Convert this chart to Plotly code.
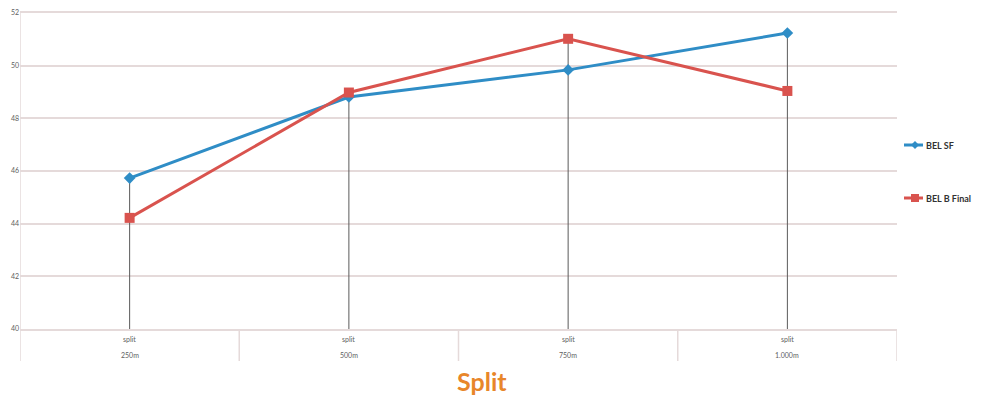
import plotly.graph_objects as go

# Split times per 250 m segment
row1 = ["split", "split", "split", "split"]
row2 = ["250m", "500m", "750m", "1.000m"]
series_names = ["BEL SF", "BEL B Final"]
bel_sf = [45.73, 48.81, 49.84, 51.24]
bel_b_final = [44.22, 48.98, 51.02, 49.04]
y_ticks = [40, 42, 44, 46, 48, 50, 52]

BLUE = "#2F8DC6"
RED = "#D9534E"
GRID = "#E5DADA"
LABEL = "#5E5E5E"
FONT = "Lato, 'Open Sans', sans-serif"

xs = list(range(len(row2)))
y_min, y_max = 40, 52

# Plot-area geometry (pixels) used to place the hand-built legend
W, H = 992, 405
ML, MR, MT, MB = 20, 95, 13, 76
PW, PH = W - ML - MR, H - MT - MB


def px_x(px):
    return (px - ML) / PW


def px_y(py):
    return (H - MB - py) / PH


fig = go.Figure()

# Drop lines from the highest value of each category down to the axis
drop_x, drop_y = [], []
for i in xs:
    drop_x += [i, i, None]
    drop_y += [max(bel_sf[i], bel_b_final[i]), y_min, None]
fig.add_trace(go.Scatter(x=drop_x, y=drop_y, mode="lines",
                         line=dict(color="#5A5A5A", width=1),
                         showlegend=False, hoverinfo="skip"))

fig.add_trace(go.Scatter(x=xs, y=bel_sf, mode="lines+markers", name=series_names[0],
                         line=dict(color=BLUE, width=3),
                         marker=dict(symbol="diamond", size=9, color=BLUE),
                         showlegend=False))
fig.add_trace(go.Scatter(x=xs, y=bel_b_final, mode="lines+markers", name=series_names[1],
                         line=dict(color=RED, width=3),
                         marker=dict(symbol="square", size=10, color=RED),
                         showlegend=False))

shapes = []
# Category separators below the axis
for b in [-0.5 + k for k in range(len(row2) + 1)]:
    shapes.append(dict(type="line", xref="x", yref="paper", x0=b, x1=b,
                       y0=0, y1=px_y(361), line=dict(color=GRID, width=1.5)))
# Value axis line
shapes.append(dict(type="line", xref="x", yref="paper", x0=-0.5, x1=-0.5,
                   y0=0, y1=1, line=dict(color=GRID, width=1.5)))

annotations = []
# Two-row category labels
for i in xs:
    annotations.append(dict(x=i, y=px_y(339), xref="x", yref="paper", text=row1[i],
                            yanchor="middle", showarrow=False,
                            font=dict(size=7, color=LABEL, family=FONT)))
    annotations.append(dict(x=i, y=px_y(355), xref="x", yref="paper", text=row2[i],
                            yanchor="middle", showarrow=False,
                            font=dict(size=7, color=LABEL, family=FONT)))
# Axis title
annotations.append(dict(x=px_x(482), y=px_y(381), xref="paper", yref="paper",
                        text="<b>Split</b>", yanchor="middle", showarrow=False,
                        font=dict(size=25, color="#E8862A", family=FONT)))

# Legend: short line glyph with marker, followed by the series name
legend_rows = [(series_names[0], BLUE, "diamond", 145),
               (series_names[1], RED, "square", 198)]
for name, color, sym, py in legend_rows:
    y = px_y(py)
    shapes.append(dict(type="line", xref="paper", yref="paper",
                       x0=px_x(904), x1=px_x(923), y0=y, y1=y,
                       line=dict(color=color, width=3)))
    cx, r = 915, 4
    if sym == "diamond":
        path = (f"M {px_x(cx - r)} {y} L {px_x(cx)} {px_y(py - r)} "
                f"L {px_x(cx + r)} {y} L {px_x(cx)} {px_y(py + r)} Z")
        shapes.append(dict(type="path", xref="paper", yref="paper", path=path,
                           fillcolor=color, line=dict(color=color, width=0)))
    else:
        shapes.append(dict(type="rect", xref="paper", yref="paper",
                           x0=px_x(cx - r), x1=px_x(cx + r),
                           y0=px_y(py + r), y1=px_y(py - r),
                           fillcolor=color, line=dict(color=color, width=0)))
    annotations.append(dict(x=px_x(924), y=y, xref="paper", yref="paper",
                            text=f"<b>{name}</b>", xanchor="left", yanchor="middle",
                            showarrow=False,
                            font=dict(size=9, color="#333", family=FONT)))

fig.update_layout(
    width=W, height=H,
    margin=dict(l=ML, r=MR, t=MT, b=MB, autoexpand=False),
    paper_bgcolor="white", plot_bgcolor="white",
    showlegend=False,
    xaxis=dict(range=[-0.5, 3.5], showticklabels=False, showgrid=False,
               zeroline=False, showline=True, mirror=True, linecolor=GRID,
               linewidth=1.5, ticks=""),
    yaxis=dict(range=[y_min, y_max], tickvals=y_ticks, showgrid=True,
               gridcolor=GRID, gridwidth=1.5, zeroline=False, showline=False,
               tickfont=dict(size=7, color=LABEL, family=FONT), ticks=""),
    shapes=shapes,
    annotations=annotations,
)

fig.write_html("out.html")
